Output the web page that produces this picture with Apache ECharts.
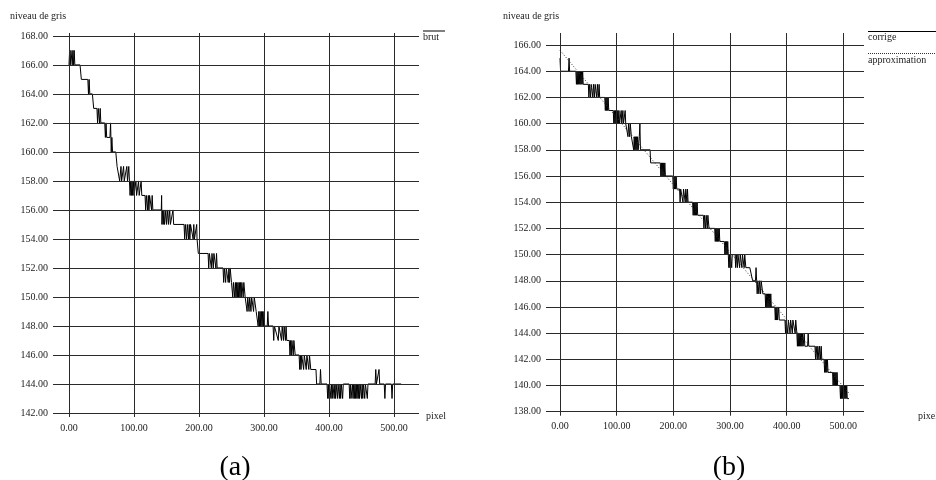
<!DOCTYPE html>
<html>
<head>
<meta charset="utf-8">
<script src="https://cdn.jsdelivr.net/npm/echarts@6/dist/echarts.min.js"></script>
<style>
html,body{margin:0;padding:0;background:#fff;}
#chart{width:936px;height:480px;}
</style>
</head>
<body>
<div id="chart"></div>
<script>
// ---- data ----
const xTicks = [0, 100, 200, 300, 400, 500];
const yTicksA = [142, 144, 146, 148, 150, 152, 154, 156, 158, 160, 162, 164, 166, 168];
const yTicksB = [138, 140, 142, 144, 146, 148, 150, 152, 154, 156, 158, 160, 162, 164, 166];

// (a) raw grey level ("brut") : [pixel, level]
const brut = [
[0,166],[1,167],[2,166],[3,167],[4,167],[5,166],[6,167],[7,166],[8,167],[9,166],
[17,166],[19,165],[29,165],[30,164],[31,165],[32,164],[36,164],[38,163],[43,163],
[44,162],[45,163],[47,162],[48,163],[49,162],[55,162],[56,161],[57,162],[58,161],
[63,161],[64,162],[65,160],[66,161],[67,160],[72,160],[74,159],
[77,159],[78,158],[80,159],[81,158],[84,159],[85,158],[89,159],[90,158],[92,159],[93,158],
[94,157],[95,158],[96,157],[97,158],[98,157],[99,158],[100,157],[103,158],[104,157],[107,158],[108,157],[111,158],[112,157],
[117,157],[118,156],[119,157],[121,156],[122,157],[123,156],[124,157],[127,156],[128,157],[129,156],
[142,156],[142.5,157],[143,155],[144,156],[145,155],[146,156],[147,155],[149,156],[150,155],[152,156],[153,155],[155,156],[156,155],[160,156],[161,155],
[177,155],[178,154],[179,155],[181,154],[182,155],[184,154],[185,155],[186,154],[187,155],[191,154],[192,155],[193,154],[196,154],[196.5,155],[197,154],[199,153],
[214,153],[215,152],[216,153],[219,152],[220,153],[222,152],[223,153],[226,152],[227,153],[228,152],
[237,152],[238,151],[239,152],[241,151],[242,152],[245,151],[246,152],[247,151],[248,152],[250,151],
[252,150],[253,151],[255,150],[256,151],[257,150],[258,151],[259,150],[260,151],[261,150],[262,151],[263,150],[264,151],[265,150],[266,151],[268,150],[269,151],[271,150],
[274,149],[275,150],[277,149],[278,150],[280,149],[281,150],[284,149],[285,150],[288,149],
[290,149],[291,148],[292,149],[293,148],[294,149],[295,148],[296,149],[297,148],[298,149],[299,148],[300,149],[301,148],
[305,148],[306,149],[307,148],[314,148],
[315,147],[316,148],[322,147],[323,148],[327,147],[328,148],[330,147],[331,148],[333,147],[334,148],[335,147],
[339,147],[340,146],[341,147],[342,146],[343,147],[345,146],[346,147],[348,146],
[354,146],[355,145],[356,146],[357,145],[358,146],[361,145],[362,146],[365,145],[366,146],[369,145],[370,146],[372,145],
[380,145],[381,144],[386,144],[387,145],[388,144],[397,144],
[398,143],[399,144],[400,143],[401,144],[403,143],[404,144],[405,143],[406,144],[408,143],[409,144],[410,143],[411,144],[413,143],[414,144],[416,143],[417,144],[418,143],[419,144],[421,143],[422,144],
[431,144],[432,143],[433,144],[434,143],[436,144],[437,143],[438,144],[439,143],[440,144],[441,143],[442,144],[443,143],[444,144],[445,143],[446,144],[447,143],[448,144],[450,143],[451,144],[452,143],[453,144],[455,143],[456,144],[459,143],[460,144],
[471,144],[472,145],[473,144],[476,144],[477,145],[478,144],[485,144],[486,143],[487,144],[496,144],[497,143],[498,144],[511,144]
];

// (b) corrected grey level ("corrige") : [pixel, level]
const corrige = [
[0,165],[1,164],[15,164],[16,165],[17,164],[28,164],
[29,163],[30,164],[31,163],[32,164],[33,163],[34,164],[35,163],[36,164],[37,163],[38,164],[39,163],[40,164],[41,163],
[50,163],[51,162],[52,163],[54,162],[55,163],[58,162],[59,163],[61,162],[62,163],[65,162],[66,163],[68,162],[69,163],[70,162],
[79,162],[80,161],[81,162],[82,161],[83,162],[84,161],[85,162],[86,161],
[94,161],[95,160],[96,161],[97,160],[98,161],[99,160],[100,161],[101,160],[102,161],[103,160],[104,161],[105,160],[108,161],[109,160],[111,161],[112,160],[115,161],[116,160],
[119,160],[120,159],[121,160],[123,159],[124,160],[126,159],
[129,159],[130,158],[131,159],[132,158],[133,159],[134,158],[135,159],[136,158],[137,159],[138,158],[140,159],[141,160],[142,158],
[159,158],[160,157],[177,157],[178,156],[179,157],[180,156],[181,157],[182,156],[183,157],[184,156],[185,157],[186,156],
[199,156],[200,155],[201,156],[202,155],[203,156],[204,155],[205,156],[206,155],
[211,155],[212,154],[213,155],[217,154],[218,155],[221,154],[222,155],[224,154],[225,155],[226,154],
[234,154],[235,153],[236,154],[237,153],[238,154],[239,153],[240,154],[241,153],[242,154],[243,153],
[253,153],[254,152],[255,153],[257,152],[258,153],[260,152],[261,153],[263,152],
[273,152],[274,151],[275,152],[276,151],[277,152],[278,151],[279,152],[280,151],[281,152],[282,151],
[290,151],[291,150],[292,151],[293,150],[294,151],[295,150],[296,151],[297,150],
[298,149],[299,150],[300,149],[301,150],[303,149],[304,150],[309,150],[310,149],[311,150],[313,149],[314,150],[317,149],[318,150],[321,149],[322,150],[325,149],[326,150],[328,149],
[335,149],[340,148],[345,148],[346,149],[347,148],
[348,147],[349,148],[351,147],[352,148],[354,147],[355,148],[358,147],
[362,147],[363,146],[364,147],[365,146],[366,147],[367,146],[368,147],[369,146],[370,147],[371,146],[372,147],[373,146],
[379,146],[380,145],[381,146],[382,145],[383,146],[384,145],[386,146],[387,145],
[397,145],[398,144],[399,145],[402,144],[403,145],[406,144],[407,145],[410,144],[411,145],[415,144],[416,145],[418,144],
[419,143],[420,144],[421,143],[422,144],[423,143],[424,144],[425,143],[426,144],[427,143],[428,144],[429,143],[431,144],[432,143],
[437,143],[438,144],[439,143],[450,143],
[451,142],[452,143],[454,142],[455,143],[457,142],[458,143],[460,142],[461,143],[462,142],
[466,142],[467,141],[468,142],[469,141],[470,142],[471,141],[472,142],[473,141],
[481,141],[482,140],[483,141],[484,140],[485,141],[486,140],[487,141],[488,140],[489,141],[490,140],
[494,140],[495,139],[496,140],[497,139],[498,140],[499,139],[500,140],[501,139],[502,140],[503,139],[504,140],[505,139],[506,140],[507,139],[510,139]
];

// (b) linear approximation : end points
const approximation = [[0,165.6],[512,139.3]];

// ---- chart ----
const FONT = "'Liberation Serif','Times New Roman',serif";
const GRID_COLOR = '#2a2a2a';
const chart = echarts.init(document.getElementById('chart'), null, {renderer:'canvas'});

function fmt(v){ return Number(v).toFixed(2); }

function xAxisCfg(gridIndex, min, max){
  return {
    type:'value', gridIndex, min, max,
    axisLine:{show:false},
    axisTick:{show:true, customValues:xTicks, length:4, lineStyle:{color:GRID_COLOR}},
    axisLabel:{customValues:xTicks, formatter:fmt, fontFamily:FONT, fontSize:10, color:'#222', margin:10},
    splitLine:{show:false}
  };
}
function yAxisCfg(gridIndex, min, max, ticks){
  return {
    type:'value', gridIndex, min, max,
    axisLine:{show:false},
    axisTick:{show:false},
    axisLabel:{customValues:ticks, formatter:fmt, fontFamily:FONT, fontSize:10, color:'#222', margin:5},
    splitLine:{show:false}
  };
}
function gridLines(yTicks){
  return {
    silent:true, symbol:['none','none'], animation:false,
    label:{show:false},
    lineStyle:{color:GRID_COLOR, width:1, type:'solid'},
    emphasis:{disabled:true},
    data: xTicks.map(v => ({xAxis:v})).concat(yTicks.map(v => ({yAxis:v})))
  };
}

const option = {
  animation:false,
  backgroundColor:'#fff',
  grid:[
    {left:53, right:517, top:33, bottom:67},
    {left:546, right:72, top:33, bottom:68.3}
  ],
  xAxis:[ xAxisCfg(0, -24.6, 538.5), xAxisCfg(1, -24.7, 536.5) ],
  yAxis:[ yAxisCfg(0, 142, 168.2, yTicksA), yAxisCfg(1, 138, 166.92, yTicksB) ],
  series:[
    {name:'brut', type:'line', xAxisIndex:0, yAxisIndex:0, data:brut, showSymbol:false, symbol:'none',
     lineStyle:{color:'#000', width:1}, markLine:gridLines(yTicksA), z:3},
    {name:'corrige', type:'line', xAxisIndex:1, yAxisIndex:1, data:corrige, showSymbol:false, symbol:'none',
     lineStyle:{color:'#000', width:1}, markLine:gridLines(yTicksB), z:3},
    {name:'approximation', type:'line', xAxisIndex:1, yAxisIndex:1, data:approximation, showSymbol:false, symbol:'none',
     lineStyle:{color:'#333', width:1, type:[1,2]}, z:4}
  ],
  graphic:[
    {type:'text', left:10, top:11, style:{text:'niveau de gris', font:'10px '+FONT, fill:'#222'}},
    {type:'text', left:503, top:11, style:{text:'niveau de gris', font:'10px '+FONT, fill:'#222'}},
    {type:'text', left:426, top:411, style:{text:'pixel', font:'10px '+FONT, fill:'#222'}},
    {type:'text', left:918, top:411, style:{text:'pixel', font:'10px '+FONT, fill:'#222'}},
    // legend (a)
    {type:'line', shape:{x1:423, y1:31, x2:445, y2:31}, style:{stroke:'#000', lineWidth:1}},
    {type:'text', left:423, top:32, style:{text:'brut', font:'10px '+FONT, fill:'#222'}},
    // legend (b)
    {type:'line', shape:{x1:868, y1:31.5, x2:936, y2:31.5}, style:{stroke:'#000', lineWidth:1}},
    {type:'text', left:868, top:32, style:{text:'corrige', font:'10px '+FONT, fill:'#222'}},
    {type:'line', shape:{x1:868, y1:53.5, x2:936, y2:53.5}, style:{stroke:'#333', lineWidth:1, lineDash:[1,1]}},
    {type:'text', left:868, top:55, style:{text:'approximation', font:'10px '+FONT, fill:'#222'}},
    // panel captions
    {type:'text', x:235, y:468, style:{text:'(a)', font:'28px '+FONT, fill:'#000', textAlign:'center', textVerticalAlign:'middle'}},
    {type:'text', x:729, y:468, style:{text:'(b)', font:'28px '+FONT, fill:'#000', textAlign:'center', textVerticalAlign:'middle'}}
  ]
};
chart.setOption(option);
</script>
</body>
</html>
